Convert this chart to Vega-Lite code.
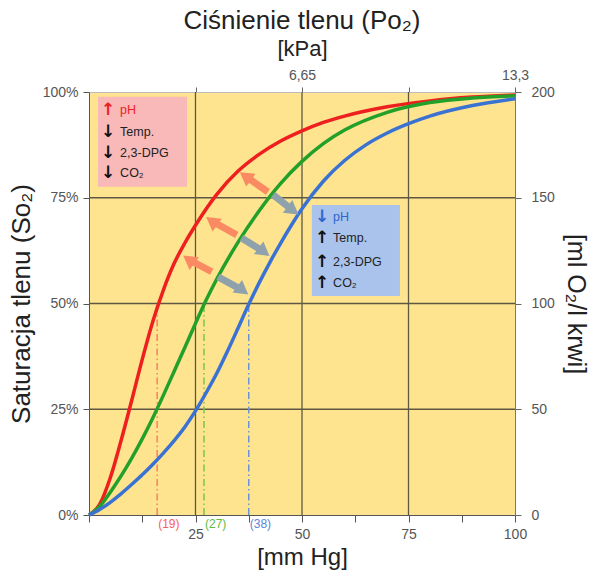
{
  "$schema": "https://vega.github.io/schema/vega-lite/v6.json",
  "width": 426,
  "height": 423,
  "autosize": "none",
  "padding": {"left": 89, "top": 92, "right": 77, "bottom": 58},
  "background": "white",
  "view": {"fill": "#FEE48F", "stroke": null},
  "config": {"font": "Liberation Sans"},
  "title": {"text": "Ciśnienie tlenu (Po₂)", "fontSize": 26, "fontWeight": "normal", "color": "#222", "anchor": "middle", "offset": 3},
  "datasets": {
    "curves": [
      {"x": 0, "s": 0, "c": "r"}, {"x": 2.5, "s": 2.5, "c": "r"}, {"x": 5, "s": 8.8, "c": "r"}, {"x": 7.5, "s": 17.5, "c": "r"}, {"x": 10, "s": 27, "c": "r"}, {"x": 12.5, "s": 36.8, "c": "r"}, {"x": 15, "s": 45.8, "c": "r"}, {"x": 17.5, "s": 53.3, "c": "r"}, {"x": 20, "s": 59.5, "c": "r"}, {"x": 22.5, "s": 64.3, "c": "r"}, {"x": 25, "s": 68.5, "c": "r"}, {"x": 30, "s": 75.8, "c": "r"}, {"x": 35, "s": 81.3, "c": "r"}, {"x": 40, "s": 85.3, "c": "r"}, {"x": 45, "s": 88.4, "c": "r"}, {"x": 50, "s": 90.8, "c": "r"}, {"x": 55, "s": 92.8, "c": "r"}, {"x": 60, "s": 94.3, "c": "r"}, {"x": 70, "s": 96.5, "c": "r"}, {"x": 80, "s": 97.9, "c": "r"}, {"x": 90, "s": 98.8, "c": "r"}, {"x": 100, "s": 99.3, "c": "r"},
      {"x": 0, "s": 0, "c": "g"}, {"x": 2.5, "s": 2, "c": "g"}, {"x": 5, "s": 5.4, "c": "g"}, {"x": 7.5, "s": 9.2, "c": "g"}, {"x": 10, "s": 13.4, "c": "g"}, {"x": 12.5, "s": 18, "c": "g"}, {"x": 15, "s": 23, "c": "g"}, {"x": 17.5, "s": 28.4, "c": "g"}, {"x": 20, "s": 34, "c": "g"}, {"x": 22.5, "s": 39.6, "c": "g"}, {"x": 25, "s": 45.3, "c": "g"}, {"x": 27.5, "s": 50.8, "c": "g"}, {"x": 30, "s": 55.8, "c": "g"}, {"x": 35, "s": 64.5, "c": "g"}, {"x": 40, "s": 72, "c": "g"}, {"x": 45, "s": 78.4, "c": "g"}, {"x": 50, "s": 83.6, "c": "g"}, {"x": 55, "s": 87.8, "c": "g"}, {"x": 60, "s": 91, "c": "g"}, {"x": 70, "s": 95.2, "c": "g"}, {"x": 80, "s": 97.5, "c": "g"}, {"x": 90, "s": 98.6, "c": "g"}, {"x": 100, "s": 99.1, "c": "g"},
      {"x": 0, "s": 0, "c": "b"}, {"x": 2.5, "s": 1.3, "c": "b"}, {"x": 5, "s": 3, "c": "b"}, {"x": 7.5, "s": 5, "c": "b"}, {"x": 10, "s": 7.2, "c": "b"}, {"x": 12.5, "s": 9.5, "c": "b"}, {"x": 15, "s": 12, "c": "b"}, {"x": 17.5, "s": 14.7, "c": "b"}, {"x": 20, "s": 17.6, "c": "b"}, {"x": 22.5, "s": 20.8, "c": "b"}, {"x": 25, "s": 24.6, "c": "b"}, {"x": 27.5, "s": 28.9, "c": "b"}, {"x": 30, "s": 33.5, "c": "b"}, {"x": 32.5, "s": 38.7, "c": "b"}, {"x": 35, "s": 44.2, "c": "b"}, {"x": 37.5, "s": 49.8, "c": "b"}, {"x": 40, "s": 55, "c": "b"}, {"x": 42.5, "s": 59.8, "c": "b"}, {"x": 45, "s": 64.3, "c": "b"}, {"x": 47.5, "s": 68.5, "c": "b"}, {"x": 50, "s": 72.4, "c": "b"}, {"x": 55, "s": 78.9, "c": "b"}, {"x": 60, "s": 83.8, "c": "b"}, {"x": 65, "s": 87.5, "c": "b"}, {"x": 70, "s": 90.3, "c": "b"}, {"x": 75, "s": 92.5, "c": "b"}, {"x": 80, "s": 94.3, "c": "b"}, {"x": 90, "s": 96.8, "c": "b"}, {"x": 100, "s": 98.4, "c": "b"}
    ],
    "drops": [
      {"x": 16, "s": 50, "z": 0, "c": "r", "t": "(19)"},
      {"x": 27, "s": 50, "z": 0, "c": "g", "t": "(27)"},
      {"x": 37.5, "s": 50, "z": 0, "c": "b", "t": "(38)"}
    ],
    "gridx": [{"v": 25, "a": 0, "b": 100}, {"v": 50, "a": 0, "b": 100}, {"v": 75, "a": 0, "b": 100}],
    "boxes": [
      {"x": 2.1, "x2": 23, "y": 98.9, "y2": 77.6, "k": "r"},
      {"x": 52.3, "x2": 73, "y": 73.3, "y2": 51.8, "k": "b"}
    ],
    "boxarrows": [
      {"x": 4.5, "y": 95.7, "t": "↑", "k": "r"},
      {"x": 4.5, "y": 90.6, "t": "↓", "k": "k"},
      {"x": 4.5, "y": 85.6, "t": "↓", "k": "k"},
      {"x": 4.5, "y": 80.9, "t": "↓", "k": "k"},
      {"x": 54.7, "y": 70.5, "t": "↓", "k": "b"},
      {"x": 54.7, "y": 65.4, "t": "↑", "k": "k"},
      {"x": 54.7, "y": 59.9, "t": "↑", "k": "k"},
      {"x": 54.7, "y": 54.8, "t": "↑", "k": "k"}
    ],
    "boxtext": [
      {"x": 7.3, "y": 95.7, "t": "pH", "k": "r"},
      {"x": 7.3, "y": 90.6, "t": "Temp.", "k": "k"},
      {"x": 7.3, "y": 85.6, "t": "2,3-DPG", "k": "k"},
      {"x": 7.3, "y": 80.9, "t": "CO₂", "k": "k"},
      {"x": 57.3, "y": 70.5, "t": "pH", "k": "b"},
      {"x": 57.3, "y": 65.4, "t": "Temp.", "k": "k"},
      {"x": 57.3, "y": 59.9, "t": "2,3-DPG", "k": "k"},
      {"x": 57.3, "y": 54.8, "t": "CO₂", "k": "k"}
    ],
    "shafts": [
      {"id": "w1", "k": "w", "x": 42.0, "y": 76.4}, {"id": "w1", "k": "w", "x": 36.7, "y": 80.1},
      {"id": "c1", "k": "c", "x": 43.2, "y": 75.7}, {"id": "c1", "k": "c", "x": 47.9, "y": 72.0},
      {"id": "w2", "k": "w", "x": 34.7, "y": 66.2}, {"id": "w2", "k": "w", "x": 28.8, "y": 69.5},
      {"id": "c2", "k": "c", "x": 35.8, "y": 65.5}, {"id": "c2", "k": "c", "x": 41.1, "y": 62.2},
      {"id": "w3", "k": "w", "x": 28.8, "y": 57.5}, {"id": "w3", "k": "w", "x": 23.4, "y": 60.4},
      {"id": "c3", "k": "c", "x": 30.3, "y": 56.3}, {"id": "c3", "k": "c", "x": 36.1, "y": 53.1}
    ],
    "heads": [
      {"k": "w", "x": 36.7, "y": 80.1}, {"k": "c", "x": 47.9, "y": 72.0},
      {"k": "w", "x": 28.8, "y": 69.5}, {"k": "c", "x": 41.1, "y": 62.2},
      {"k": "w", "x": 23.4, "y": 60.4}, {"k": "c", "x": 36.1, "y": 53.1}
    ]
  },
  "layer": [
    {
      "data": {"name": "boxes"},
      "mark": {"type": "rect"},
      "encoding": {
        "x": {"field": "x", "type": "quantitative", "scale": {"domain": [0, 100], "nice": false},
          "axis": {"orient": "top", "values": [25, 50, 75, 100], "labelExpr": "datum.value == 50 ? '6,65' : (datum.value == 100 ? '13,3' : '')", "title": "[kPa]", "grid": false, "tickSize": 5, "tickColor": "#666", "domainColor": "#bbb", "labelFontSize": 14, "labelColor": "#555", "labelPadding": 5, "labelOverlap": false, "labelFlush": false, "titleFontSize": 22, "titleFontWeight": "normal", "titleColor": "#222", "titlePadding": 8}},
        "x2": {"field": "x2"},
        "y": {"field": "y", "type": "quantitative", "scale": {"domain": [0, 100], "nice": false},
          "axis": {"orient": "right", "values": [0, 25, 50, 75, 100], "labelExpr": "format(datum.value * 2, 'd')", "title": "[ml O₂/l krwi]", "grid": false, "tickSize": 6, "tickColor": "#666", "domainColor": "#777", "labelFontSize": 14, "labelColor": "#555", "labelPadding": 10, "labelOverlap": false, "labelFlush": false, "titleFontSize": 25, "titleFontWeight": "normal", "titleColor": "#222", "titlePadding": 8}},
        "y2": {"field": "y2"},
        "color": {"field": "k", "type": "nominal", "scale": {"domain": ["r", "b"], "range": ["#F9B9B9", "#A9C3EC"]}, "legend": null}
      }
    },
    {
      "data": {"name": "gridx"},
      "mark": {"type": "rule", "color": "#5e5742", "strokeWidth": 1.3},
      "encoding": {
        "x": {"field": "v", "type": "quantitative", "axis": null},
        "y": {"field": "a", "type": "quantitative", "axis": null},
        "y2": {"field": "b"}
      }
    },
    {
      "data": {"name": "gridx"},
      "mark": {"type": "rule", "color": "#5e5742", "strokeWidth": 1.3},
      "encoding": {
        "y": {"field": "v", "type": "quantitative", "axis": null},
        "x": {"field": "a", "type": "quantitative", "axis": null},
        "x2": {"field": "b"}
      }
    },
    {
      "data": {"name": "drops"},
      "mark": {"type": "rule", "strokeWidth": 1.5, "strokeDash": [7, 3, 1.5, 3]},
      "encoding": {
        "x": {"field": "x", "type": "quantitative", "axis": null},
        "y": {"field": "z", "type": "quantitative", "axis": null},
        "y2": {"field": "s"},
        "color": {"field": "c", "type": "nominal", "scale": {"domain": ["r", "g", "b"], "range": ["#F8806A", "#7CC44E", "#6B93D6"]}, "legend": null}
      }
    },
    {
      "data": {"name": "drops"},
      "mark": {"type": "text", "align": "left", "baseline": "middle", "dy": 9, "dx": 1, "fontSize": 12},
      "encoding": {
        "x": {"field": "x", "type": "quantitative", "axis": null},
        "y": {"field": "z", "type": "quantitative", "axis": null},
        "text": {"field": "t", "type": "nominal"},
        "color": {"field": "c", "type": "nominal", "scale": {"domain": ["r", "g", "b"], "range": ["#F8605A", "#5DBB45", "#5A86D6"]}, "legend": null}
      }
    },
    {
      "data": {"name": "curves"},
      "mark": {"type": "line", "strokeWidth": 3.5, "interpolate": "monotone"},
      "encoding": {
        "x": {"field": "x", "type": "quantitative",
          "axis": {"orient": "bottom", "values": [0, 12.5, 25, 37.5, 50, 62.5, 75, 87.5, 100], "labelExpr": "indexof([25, 50, 75, 100], datum.value) >= 0 ? datum.label : ''", "title": "[mm Hg]", "grid": false, "tickSize": 7, "tickColor": "#555", "domainColor": "#555", "labelFontSize": 14, "labelColor": "#555", "labelPadding": 5, "labelOverlap": false, "labelFlush": false, "titleFontSize": 24, "titleFontWeight": "normal", "titleColor": "#222", "titlePadding": 4}},
        "y": {"field": "s", "type": "quantitative",
          "axis": {"orient": "left", "values": [0, 25, 50, 75, 100], "labelExpr": "datum.value + '%'", "title": "Saturacja tlenu (So₂)", "grid": false, "tickSize": 6, "tickColor": "#555", "domainColor": "#555", "labelFontSize": 14, "labelColor": "#555", "labelPadding": 5, "labelOverlap": false, "labelFlush": false, "titleFontSize": 26, "titleFontWeight": "normal", "titleColor": "#222", "titlePadding": 8}},
        "color": {"field": "c", "type": "nominal", "scale": {"domain": ["r", "g", "b"], "range": ["#EE1F1F", "#22A02A", "#3A72D4"]}, "legend": null}
      }
    },
    {
      "data": {"name": "shafts"},
      "mark": {"type": "line", "strokeWidth": 7, "strokeCap": "butt"},
      "encoding": {
        "x": {"field": "x", "type": "quantitative", "axis": null},
        "y": {"field": "y", "type": "quantitative", "axis": null},
        "detail": {"field": "id", "type": "nominal"},
        "color": {"field": "k", "type": "nominal", "scale": {"domain": ["w", "c"], "range": ["#F98A62", "#8FA2AC"]}, "legend": null}
      }
    },
    {
      "data": {"name": "heads"},
      "transform": [{"filter": "datum.k == 'w'"}],
      "mark": {"type": "point", "shape": "triangle-up", "filled": true, "size": 250, "angle": 306, "opacity": 1, "color": "#F98A62"},
      "encoding": {
        "x": {"field": "x", "type": "quantitative", "axis": null},
        "y": {"field": "y", "type": "quantitative", "axis": null}
      }
    },
    {
      "data": {"name": "heads"},
      "transform": [{"filter": "datum.k == 'c'"}],
      "mark": {"type": "point", "shape": "triangle-up", "filled": true, "size": 250, "angle": 127, "opacity": 1, "color": "#8FA2AC"},
      "encoding": {
        "x": {"field": "x", "type": "quantitative", "axis": null},
        "y": {"field": "y", "type": "quantitative", "axis": null}
      }
    },
    {
      "data": {"name": "boxarrows"},
      "mark": {"type": "text", "align": "center", "baseline": "middle", "fontSize": 17, "fontWeight": "bold", "font": "DejaVu Sans"},
      "encoding": {
        "x": {"field": "x", "type": "quantitative", "axis": null},
        "y": {"field": "y", "type": "quantitative", "axis": null},
        "text": {"field": "t", "type": "nominal"},
        "color": {"field": "k", "type": "nominal", "scale": {"domain": ["r", "b", "k"], "range": ["#EE1F1F", "#2F66CC", "#111"]}, "legend": null}
      }
    },
    {
      "data": {"name": "boxtext"},
      "mark": {"type": "text", "align": "left", "baseline": "middle", "fontSize": 12.5},
      "encoding": {
        "x": {"field": "x", "type": "quantitative", "axis": null},
        "y": {"field": "y", "type": "quantitative", "axis": null},
        "text": {"field": "t", "type": "nominal"},
        "color": {"field": "k", "type": "nominal", "scale": {"domain": ["r", "b", "k"], "range": ["#EE1F1F", "#2F66CC", "#222"]}, "legend": null}
      }
    }
  ],
  "resolve": {
    "axis": {"x": "independent", "y": "independent"},
    "scale": {"color": "independent"}
  }
}
